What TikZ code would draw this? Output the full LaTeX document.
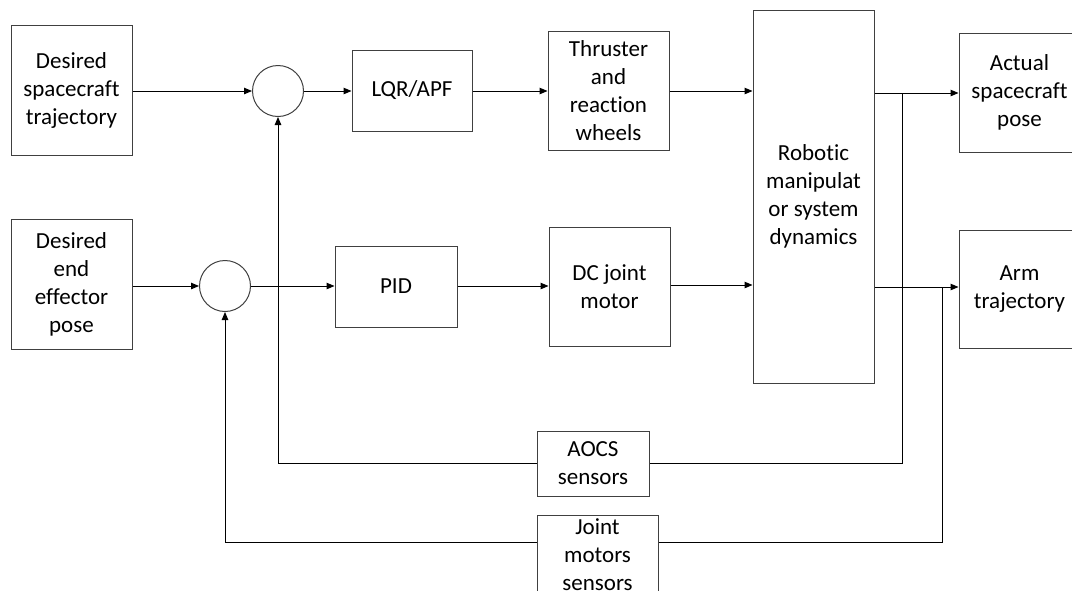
\documentclass[tikz,border=0pt]{standalone}
\usepackage{fontspec}
\setmainfont{Carlito}[Ligatures=NoCommon]
\usetikzlibrary{arrows.meta}
\tikzset{
  blk/.style={draw=black!75, line width=1pt, fill=white, align=center, inner sep=0pt,
              font=\fontsize{23}{28}\selectfont, rectangle},
  sumj/.style={draw=black!75, line width=1pt, fill=white, circle, inner sep=0pt, minimum size=51pt},
  sig/.style={draw=black, line width=1pt, -{Triangle[length=8pt,width=6.5pt]}},
  wire/.style={draw=black, line width=1pt},
}
\begin{document}
\begin{tikzpicture}[x=1pt,y=-1pt]
\useasboundingbox (0,0) rectangle (1072,590);
\clip (0,0) rectangle (1072,590);
\fill[white] (0,0) rectangle (1072,590);

% forward path, spacecraft branch
\node[blk, minimum width=121pt, minimum height=130pt] (ds) at (71.5,90) {Desired\\spacecraft\\trajectory};
\node[sumj] (s1) at (278,91) {};
\node[blk, minimum width=120pt, minimum height=81pt] (lqr) at (412,90.5) {LQR/APF};
\node[blk, minimum width=121pt, minimum height=119pt] (thr) at (608.5,90.5) {Thruster\\and\\reaction\\wheels};
\node[blk, minimum width=121pt, minimum height=373pt] (rob) at (813.5,196.5) {Robotic\\manipulat\\or system\\dynamics};
\node[blk, minimum width=121pt, minimum height=119pt] (asp) at (1019.5,92.5) {Actual\\spacecraft\\pose};

% forward path, arm branch
\node[blk, minimum width=121pt, minimum height=130pt] (de) at (71.5,284) {Desired\\end\\effector\\pose};
\node[sumj] (s2) at (225,286) {};
\node[blk, minimum width=122pt, minimum height=81pt] (pid) at (396,286.5) {PID};
\node[blk, minimum width=121pt, minimum height=119pt] (dc) at (609.5,286.5) {DC joint\\motor};
\node[blk, minimum width=121pt, minimum height=118pt] (arm) at (1019.5,289) {Arm\\trajectory};

% sensor blocks
\node[blk, minimum width=112pt, minimum height=65pt] (aocs) at (593,463.5) {AOCS\\sensors};
\node[blk, minimum width=121pt, minimum height=80pt] (jms) at (597.5,555) {Joint\\motors\\sensors};

% branch points on the plant outputs
\coordinate (o1) at (rob.east |- 0,93);
\coordinate (o2) at (rob.east |- 0,287);
\coordinate (b1) at (902,93);
\coordinate (b2) at (942,287);

% spacecraft loop
\draw[sig] (ds.east |- s1.west) -- (s1.west);
\draw[sig] (s1.east) -- (lqr.west |- s1.east);
\draw[sig] (lqr.east |- s1.east) -- (thr.west |- s1.east);
\draw[sig] (thr.east |- s1.east) -- (rob.west |- s1.east);
\draw[sig] (o1) -- (asp.west |- o1);
\draw[wire] (b1) |- (aocs.east);
\draw[sig] (aocs.west) -| (s1.south);

% arm loop
\draw[sig] (de.east |- s2.west) -- (s2.west);
\draw[sig] (s2.east) -- (pid.west |- s2.east);
\draw[sig] (pid.east |- s2.east) -- (dc.west |- s2.east);
\draw[sig] (dc.east |- 0,285) -- (rob.west |- 0,285);
\draw[sig] (o2) -- (arm.west |- o2);
\draw[wire] (b2) |- (jms.east |- 0,542);
\draw[sig] (jms.west |- 0,542) -| (s2.south);
\end{tikzpicture}
\end{document}
